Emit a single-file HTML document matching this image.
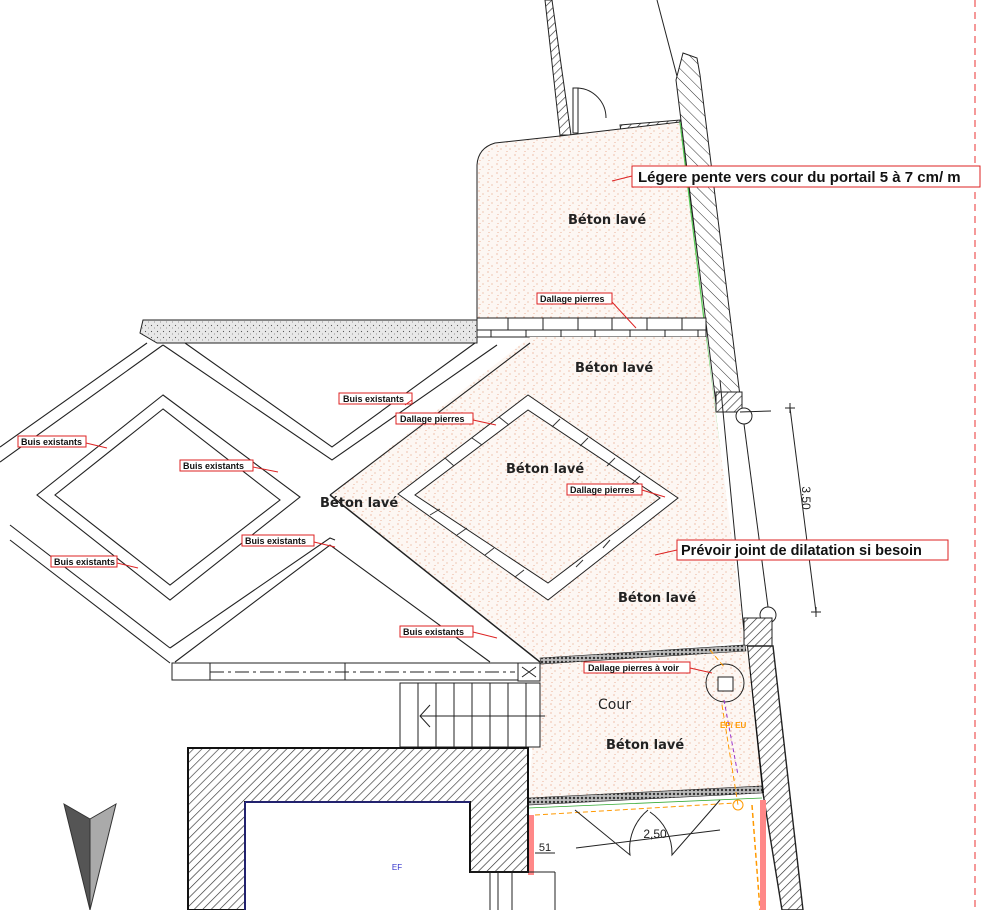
<!DOCTYPE html>
<html><head><meta charset="utf-8"><style>
html,body{margin:0;padding:0;background:#fff;}
svg{display:block;}
text{font-family:"Liberation Sans",sans-serif;}
.lb{font-size:9px;font-weight:bold;fill:#111;}
.bx{fill:#fff;stroke:#d22;stroke-width:1;}
.ar{stroke:#d22;stroke-width:1;fill:none;}
.bt{font-family:"DejaVu Sans",sans-serif;font-size:13px;font-weight:bold;fill:#222;}
</style></head><body>
<svg width="993" height="910" viewBox="0 0 993 910" xmlns="http://www.w3.org/2000/svg">
<defs>
<pattern id="dots" width="9" height="9" patternUnits="userSpaceOnUse">
<rect width="9" height="9" fill="#fdf7f3"/>
<circle cx="2" cy="2" r="0.6" fill="#e49a78"/><circle cx="6" cy="5" r="0.6" fill="#e8a888"/><circle cx="3" cy="7.5" r="0.5" fill="#e49a78"/>
</pattern>
<pattern id="hatch" width="6" height="6" patternUnits="userSpaceOnUse" patternTransform="rotate(45)">
<rect width="6" height="6" fill="#fff"/><line x1="0" y1="0" x2="0" y2="6" stroke="#333" stroke-width="1.3"/>
</pattern>
<pattern id="hatch2" width="8" height="8" patternUnits="userSpaceOnUse" patternTransform="rotate(-45)">
<rect width="8" height="8" fill="#fff"/><line x1="0" y1="0" x2="0" y2="8" stroke="#333" stroke-width="1"/>
</pattern>
<pattern id="grav" width="4" height="4" patternUnits="userSpaceOnUse">
<rect width="4" height="4" fill="#bbb"/><circle cx="2" cy="2" r="1.2" fill="#333"/>
</pattern>
<pattern id="sand" width="6" height="6" patternUnits="userSpaceOnUse">
<rect width="6" height="6" fill="#e8e8e8"/><circle cx="1.5" cy="1.5" r="0.6" fill="#555"/><circle cx="4.5" cy="4" r="0.5" fill="#777"/>
</pattern>
</defs>

<line x1="975" y1="0" x2="975" y2="910" stroke="#e55" stroke-width="1.2" stroke-dasharray="7,5"/>

<polygon points="545,0 552,0 571,135 560,135" fill="url(#hatch)" stroke="#222" stroke-width="1"/>
<line x1="657" y1="0" x2="678" y2="80" stroke="#222"/>
<path d="M573,88 L578,88 L578,133 L573,133 Z" fill="#fff" stroke="#222"/>
<path d="M578,88 A30,30 0 0 1 606,118" fill="none" stroke="#222"/>
<polygon points="620,125 680,120 680,128 621,131" fill="url(#hatch)" stroke="#222"/>

<path d="M477,318 L477,165 Q478,148 495,143 L560,136 L680,122 L706,318 Z" fill="url(#dots)" stroke="#222" stroke-width="1"/>
<line x1="680" y1="122" x2="720" y2="452" stroke="#5c5" stroke-width="1.2"/>

<polygon points="683,53 697,58 700,75 742,412 717,412 676,80" fill="url(#hatch2)" stroke="#222" stroke-width="1"/>
<rect x="716" y="392" width="26" height="20" fill="url(#hatch)" stroke="#222"/>

<polygon points="143,320 477,320 477,343 157,343 140,333" fill="url(#sand)" stroke="#222"/>
<rect x="477" y="318" width="229" height="19" fill="#fff" stroke="#222"/>
<line x1="477" y1="330" x2="706" y2="330" stroke="#222"/>
<g stroke="#222">
<line x1="508" y1="318" x2="508" y2="330"/><line x1="543" y1="318" x2="543" y2="330"/><line x1="578" y1="318" x2="578" y2="330"/><line x1="612" y1="318" x2="612" y2="330"/><line x1="647" y1="318" x2="647" y2="330"/><line x1="682" y1="318" x2="682" y2="330"/>
<line x1="491" y1="330" x2="491" y2="337"/><line x1="526" y1="330" x2="526" y2="337"/><line x1="561" y1="330" x2="561" y2="337"/><line x1="595" y1="330" x2="595" y2="337"/><line x1="630" y1="330" x2="630" y2="337"/><line x1="665" y1="330" x2="665" y2="337"/><line x1="698" y1="330" x2="698" y2="337"/>
</g>

<polygon points="530,337 706,337 745,642 540,660 330,495" fill="url(#dots)"/>
<line x1="720" y1="380" x2="745" y2="642" stroke="#222"/>
<g stroke="#222" stroke-width="1.1" fill="none">
<line x1="147" y1="343" x2="0" y2="447"/>
<line x1="163" y1="345" x2="0" y2="462"/>
<polyline points="163,345 332,460 497,345"/>
<polyline points="185,343 332,447 475,343"/>
<line x1="530" y1="343" x2="330" y2="495"/>
<line x1="330" y1="495" x2="540" y2="662" stroke-width="1.5"/>
<polygon points="163,395 37,495 170,600 300,497"/>
<polygon points="163,409 55,495 170,585 280,500"/>
<line x1="10" y1="525" x2="170" y2="648"/>
<line x1="10" y1="540" x2="170" y2="663"/>
<polyline points="170,648 330,538 335,540"/>
<polyline points="175,662 330,545 490,662"/>
</g>
<polygon points="528,395 398,494 548,600 678,498" fill="#fff" stroke="#222"/>
<polygon points="528,410 415,495 548,583 660,498" fill="url(#dots)" stroke="#222"/>
<g stroke="#333">
<line x1="499" y1="417" x2="509" y2="425"/><line x1="472" y1="438" x2="482" y2="445"/><line x1="445" y1="458" x2="454" y2="466"/><line x1="560" y1="419" x2="552" y2="427"/><line x1="588" y1="438" x2="580" y2="446"/><line x1="615" y1="458" x2="607" y2="466"/><line x1="640" y1="476" x2="632" y2="484"/><line x1="430" y1="515" x2="440" y2="509"/><line x1="457" y1="535" x2="467" y2="528"/><line x1="485" y1="555" x2="494" y2="548"/><line x1="515" y1="577" x2="524" y2="570"/><line x1="610" y1="540" x2="603" y2="548"/><line x1="583" y1="560" x2="576" y2="567"/>
</g>

<circle cx="744" cy="416" r="8" fill="#fff" stroke="#222"/>
<circle cx="768" cy="615" r="8" fill="#fff" stroke="#222"/>
<line x1="744" y1="424" x2="768" y2="607" stroke="#222"/>
<line x1="740" y1="412" x2="771" y2="411" stroke="#222"/>
<line x1="790" y1="408" x2="816" y2="612" stroke="#222"/>
<text x="0" y="0" transform="translate(802,498) rotate(90)" font-size="12" fill="#222" text-anchor="middle">3.50</text>
<g stroke="#222"><line x1="785" y1="408" x2="795" y2="408"/><line x1="790" y1="403" x2="790" y2="413"/><line x1="811" y1="612" x2="821" y2="612"/><line x1="816" y1="607" x2="816" y2="617"/></g>

<rect x="744" y="618" width="28" height="28" fill="url(#hatch)" stroke="#222"/>
<polygon points="747,646 773,646 803,910 782,910 763,793" fill="url(#hatch)" stroke="#222" stroke-width="1.4"/>
<line x1="747" y1="646" x2="763" y2="793" stroke="#111" stroke-width="2"/>

<polygon points="540,662 747,646 762,790 528,800" fill="url(#dots)"/>
<polygon points="540,658 745,645 746,651 541,664" fill="url(#grav)" stroke="#222" stroke-width="0.6"/>
<polygon points="528,798 762,786 762,793 528,805" fill="url(#grav)" stroke="#222" stroke-width="0.6"/>
<line x1="528" y1="808" x2="762" y2="798" stroke="#3a3" stroke-width="0.8"/>
<circle cx="725" cy="683" r="19" fill="none" stroke="#222"/>
<rect x="718" y="677" width="15" height="14" fill="#fff" stroke="#222"/>
<line x1="724" y1="700" x2="738" y2="775" stroke="#93c" stroke-dasharray="4,3"/>
<line x1="710" y1="650" x2="725" y2="668" stroke="#f90" stroke-dasharray="5,3"/>
<line x1="722" y1="705" x2="738" y2="805" stroke="#f90" stroke-dasharray="5,3"/>
<line x1="535" y1="815" x2="735" y2="803" stroke="#f90" stroke-dasharray="5,3"/>
<line x1="752" y1="805" x2="760" y2="910" stroke="#f90" stroke-width="1.5" stroke-dasharray="5,3"/>
<rect x="528" y="815" width="6" height="60" fill="#f88"/>
<rect x="760" y="800" width="6" height="110" fill="#f88"/>
<circle cx="738" cy="805" r="5" fill="none" stroke="#f90"/>
<text x="720" y="728" font-size="8" fill="#f90" font-weight="bold">EP/ EU</text>
<g stroke="#222" fill="none">
<path d="M575,810 L630,855 A50,50 0 0 1 648,810"/>
<path d="M720,800 L672,855 A50,50 0 0 0 650,812"/>
<line x1="576" y1="848" x2="720" y2="830"/>
<line x1="535" y1="853" x2="555" y2="853"/>
</g>
<text x="655" y="838" font-size="12" fill="#222" text-anchor="middle">2,50</text>
<text x="545" y="851" font-size="11" fill="#222" text-anchor="middle">51</text>

<rect x="172" y="663" width="368" height="17" fill="#fff" stroke="#222"/>
<line x1="210" y1="663" x2="210" y2="680" stroke="#222"/>
<line x1="345" y1="663" x2="345" y2="680" stroke="#222"/>
<line x1="210" y1="672" x2="515" y2="672" stroke="#222" stroke-dasharray="14,4,3,4"/>
<rect x="518" y="663" width="22" height="18" fill="#fff" stroke="#222"/>
<path d="M522,667 L536,677 M536,667 L522,677" stroke="#222"/>
<rect x="400" y="683" width="140" height="64" fill="#fff" stroke="#222"/>
<g stroke="#222"><line x1="418" y1="683" x2="418" y2="747"/><line x1="436" y1="683" x2="436" y2="747"/><line x1="454" y1="683" x2="454" y2="747"/><line x1="472" y1="683" x2="472" y2="747"/><line x1="490" y1="683" x2="490" y2="747"/><line x1="508" y1="683" x2="508" y2="747"/><line x1="526" y1="683" x2="526" y2="747"/>
<line x1="420" y1="716" x2="545" y2="716"/><polyline points="430,705 420,716 430,727" fill="none"/></g>

<path d="M188,748 L528,748 L528,872 L470,872 L470,802 L245,802 L245,910 L188,910 Z" fill="url(#hatch)" stroke="#111" stroke-width="2"/>
<line x1="245" y1="802" x2="470" y2="802" stroke="#33c"/>
<line x1="245" y1="802" x2="245" y2="910" stroke="#33c"/>
<text x="397" y="870" font-size="8" fill="#33c" text-anchor="middle">EF</text>
<g stroke="#222"><line x1="490" y1="872" x2="490" y2="910"/><line x1="498" y1="872" x2="498" y2="910"/><line x1="512" y1="872" x2="512" y2="910"/><line x1="555" y1="872" x2="555" y2="910"/><line x1="470" y1="872" x2="555" y2="872"/></g>

<polygon points="64,804 90,819 90,910" fill="#555" stroke="#333"/>
<polygon points="116,804 90,819 90,910" fill="#aaa" stroke="#333"/>

<text class="bt" x="568" y="224">Béton lavé</text>
<text class="bt" x="575" y="372">Béton lavé</text>
<text class="bt" x="506" y="473">Béton lavé</text>
<text class="bt" x="320" y="507">Béton lavé</text>
<text class="bt" x="618" y="602">Béton lavé</text>
<text class="bt" x="598" y="709" style="font-weight:normal;font-size:14px">Cour</text>
<text class="bt" x="606" y="749">Béton lavé</text>

<rect class="bx" x="632" y="166" width="348" height="21"/>
<text x="638" y="182" font-size="15" font-weight="bold" fill="#111">Légere pente vers cour du portail 5 à 7 cm/ m</text>
<line class="ar" x1="632" y1="176" x2="612" y2="181"/>
<rect class="bx" x="677" y="540" width="271" height="20"/>
<text x="681" y="555" font-size="14.5" font-weight="bold" fill="#111">Prévoir joint de dilatation si besoin</text>
<line class="ar" x1="677" y1="550" x2="655" y2="555"/>

<rect class="bx" x="537" y="293" width="75" height="11"/><text class="lb" x="540" y="302">Dallage pierres</text><line class="ar" x1="612" y1="302" x2="636" y2="328"/>
<rect class="bx" x="339" y="393" width="73" height="11"/><text class="lb" x="343" y="402">Buis existants</text><line class="ar" x1="412" y1="400" x2="405" y2="405"/>
<rect class="bx" x="396" y="413" width="77" height="11"/><text class="lb" x="400" y="422">Dallage pierres</text><line class="ar" x1="473" y1="420" x2="496" y2="425"/>
<rect class="bx" x="18" y="436" width="68" height="11"/><text class="lb" x="21" y="445">Buis existants</text><line class="ar" x1="86" y1="443" x2="107" y2="448"/>
<rect class="bx" x="180" y="460" width="73" height="11"/><text class="lb" x="183" y="469">Buis existants</text><line class="ar" x1="253" y1="467" x2="278" y2="472"/>
<rect class="bx" x="567" y="484" width="75" height="11"/><text class="lb" x="570" y="493">Dallage pierres</text><line class="ar" x1="642" y1="490" x2="665" y2="497"/>
<rect class="bx" x="242" y="535" width="72" height="11"/><text class="lb" x="245" y="544">Buis existants</text><line class="ar" x1="314" y1="542" x2="335" y2="547"/>
<rect class="bx" x="51" y="556" width="66" height="11"/><text class="lb" x="54" y="565">Buis existants</text><line class="ar" x1="117" y1="563" x2="138" y2="568"/>
<rect class="bx" x="400" y="626" width="73" height="11"/><text class="lb" x="403" y="635">Buis existants</text><line class="ar" x1="473" y1="632" x2="497" y2="638"/>
<rect class="bx" x="584" y="662" width="106" height="11"/><text class="lb" x="588" y="671">Dallage pierres à voir</text><line class="ar" x1="690" y1="668" x2="712" y2="673"/>
</svg>
</body></html>
